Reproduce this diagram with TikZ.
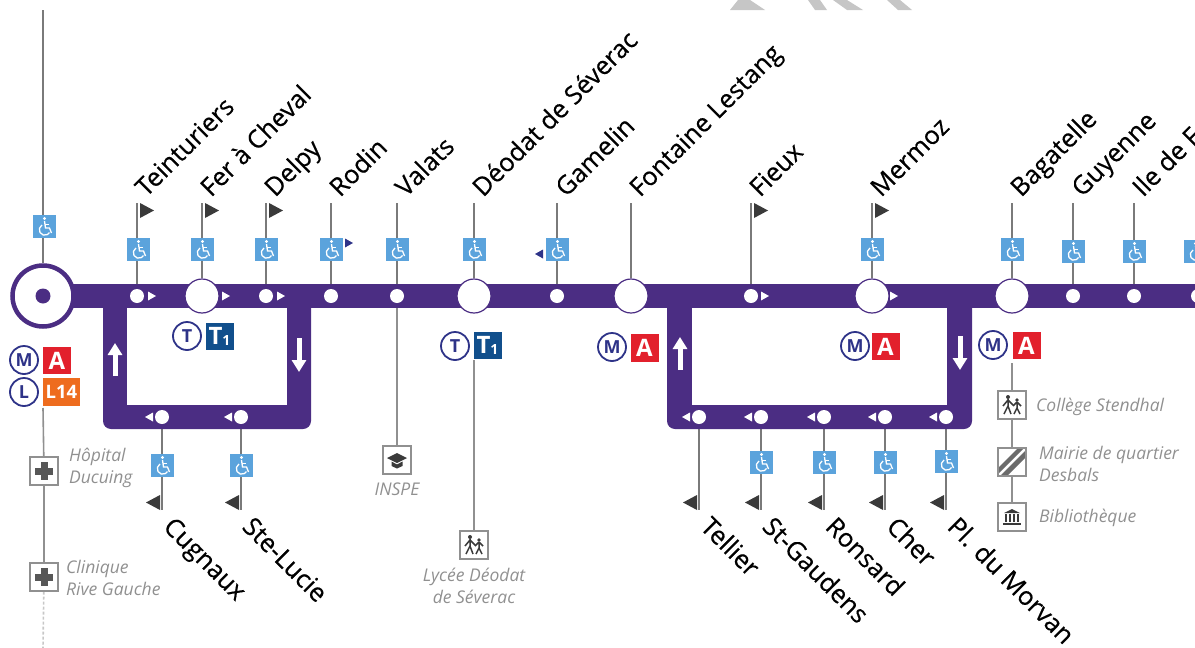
\documentclass[tikz,border=0pt]{standalone}
\usepackage{fontspec}
\setmainfont{Open Sans}
\newfontfamily\stopfont[FakeBold=0.45]{Open Sans}
\usetikzlibrary{calc,positioning,arrows.meta,backgrounds}
\definecolor{lineC}{HTML}{4B2D83}
\definecolor{accessC}{HTML}{5BA3DC}
\definecolor{metroC}{HTML}{E2202C}
\definecolor{busC}{HTML}{EE6C1E}
\definecolor{tramC}{HTML}{114F8C}
\definecolor{ringC}{HTML}{2E3388}
\definecolor{leadC}{HTML}{7A7A7A}
\definecolor{poiC}{HTML}{909090}
\definecolor{flagC}{HTML}{3A3A3A}
\tikzset{
  stopdot/.style={circle,fill=white,inner sep=0pt,minimum size=14},
  stophub/.style={circle,fill=white,draw=lineC,line width=1.2,inner sep=0pt,minimum size=34},
  leader/.style={leadC,line width=1.8},
  thinlead/.style={poiC,line width=1.6},
  toplabel/.style={anchor=base west,inner sep=0pt,rotate=45,font=\stopfont\fontsize{25.4}{25.4}\selectfont},
  lowlabel/.style={anchor=base west,inner sep=0pt,rotate=-45,font=\stopfont\fontsize{25.4}{25.4}\selectfont},
  poitext/.style={poiC,anchor=west,inner sep=0pt,align=left,font=\fontsize{17.5}{22}\selectfont\itshape},
  ringbadge/.style={circle,draw=ringC,fill=white,line width=1.8,inner sep=0pt,minimum size=28,text=ringC,font=\fontsize{18}{18}\selectfont\bfseries},
  linebadge/.style={fill=#1,text=white,inner sep=0pt,minimum height=27.5,minimum width=28,font=\fontsize{24}{24}\selectfont\bfseries},
  wheelbox/.style={fill=accessC,inner sep=0pt,minimum size=23,path picture={
    \begin{scope}[shift={(path picture bounding box.center)},white,line width=1.3]
      \fill (0.5,-7.5) circle (1.7pt);
      \draw (0.5,-5) -- (1.5,2) -- (5.5,2) -- (7.5,7);
      \draw (1,-1.5) -- (5,-1.5);
      \draw (-2,-1) arc[start angle=120,end angle=330,radius=5.5pt];
    \end{scope}}},
  poibox/.style={draw=poiC,fill=white,line width=1.4,inner sep=0pt,minimum size=28},
  crossbox/.style={poibox,path picture={
    \begin{scope}[shift={(path picture bounding box.center)}]
      \fill[flagC!85] (-9,-3.5) rectangle (9,3.5);
      \fill[flagC!85] (-3.5,-9) rectangle (3.5,9);
    \end{scope}}},
  kidsbox/.style={poibox,path picture={
    \begin{scope}[shift={(path picture bounding box.center)},flagC,line width=1.5]
      \fill (-4,-8) circle (2pt);
      \fill (5,-5) circle (1.8pt);
      \draw (-4,-6) -- (-4,1) -- (-8,9) (-4,1) -- (-1,9) (-4,-5) -- (-9,1) (-4,-5) -- (1,0);
      \draw (5,-3) -- (5,3) -- (2,9) (5,3) -- (8,9) (5,-3) -- (1,1) (5,-3) -- (9,1);
    \end{scope}}},
  capbox/.style={poibox,path picture={
    \begin{scope}[shift={(path picture bounding box.center)}]
      \fill[flagC] (-10,-2) -- (0,-7) -- (10,-2) -- (0,3) -- cycle;
      \fill[flagC] (-5.5,1.5) -- (0,4.5) -- (5.5,1.5) -- (5.5,6) -- (0,8.5) -- (-5.5,6) -- cycle;
    \end{scope}}},
  stripebox/.style={poibox,path picture={
    \begin{scope}[shift={(path picture bounding box.center)}]
      \fill[flagC!75] (-14,6) -- (6,-14) -- (12,-14) -- (-14,12) -- cycle;
      \fill[flagC!75] (14,-12) -- (-12,14) -- (-5,14) -- (14,-5) -- cycle;
    \end{scope}}},
  bankbox/.style={poibox,path picture={
    \begin{scope}[shift={(path picture bounding box.center)}]
      \fill[flagC] (-8,-4) -- (0,-8) -- (8,-4) -- cycle;
      \foreach \c in {-6,-2,2,6}{\fill[flagC] (\c-0.8,-3) rectangle (\c+0.8,5);}
      \fill[flagC] (-9,6) rectangle (9,8);
    \end{scope}}},
  dirR/.pic={\fill[white] (0,-4.5) -- (8,0) -- (0,4.5) -- cycle;},
  dirL/.pic={\fill[white] (0,-4.5) -- (-8,0) -- (0,4.5) -- cycle;},
  flagR/.pic={\fill[flagC] (0,0) -- (14,7.5) -- (0,15) -- cycle;},
  flagL/.pic={\fill[flagC] (0,0) -- (-14,7.5) -- (0,15) -- cycle;},
  blueR/.pic={\fill[ringC] (0,-4.5) -- (8,0) -- (0,4.5) -- cycle;},
  blueL/.pic={\fill[ringC] (0,-4.5) -- (-8,0) -- (0,4.5) -- cycle;},
}

\begin{document}
\begin{tikzpicture}[x=1pt,y=-1pt]
  \useasboundingbox (0,0) rectangle (1195,648);

  % print residue along the top edge
  \fill[gray!45] (730,10) -- (738,0) -- (750,0) -- (765,10) -- cycle;
  \fill[gray!45] (808,0) -- (820,0) -- (827,10) -- (815,10) -- cycle;
  \fill[gray!45] (833,0) -- (847,0) -- (863,10) -- (847,10) -- cycle;
  \fill[gray!45] (887,0) -- (900,0) -- (912,10) -- (898,10) -- cycle;

  % loops and main band
  \fill[lineC,rounded corners=8] (103,296) -- (103,429) -- (311,429) -- (311,296) -- cycle;
  \fill[white] (127,296) rectangle (287,405);
  \fill[lineC,rounded corners=8] (667,296) -- (667,429) -- (972,429) -- (972,296) -- cycle;
  \fill[white] (692,296) rectangle (947,405);
  \fill[lineC] (60,284) rectangle (1195,308);

  % terminus
  \node[circle,draw=lineC,fill=white,line width=4.5,inner sep=0pt,minimum size=61] (term) at (43,296) {};
  \fill[lineC] (term.center) circle (7.5pt);

  % upper stops
  \foreach \n/\x/\st/\lab in {teint/137/stopdot/Teinturiers,fer/202/stophub/Fer à Cheval,delpy/266/stopdot/Delpy,
      rodin/331/stopdot/Rodin,valats/397/stopdot/Valats,deodat/474/stophub/Déodat de Séverac,gamelin/557/stopdot/Gamelin,
      fontaine/631/stophub/Fontaine Lestang,fieux/751/stopdot/Fieux,mermoz/872/stophub/Mermoz,
      bagatelle/1012/stophub/Bagatelle,guyenne/1073/stopdot/Guyenne,ile/1134/stopdot/Ile de F}{
    \node[\st] (s\n) at (\x,296) {};
    \coordinate (t\n) at (\x,203);
    \node[toplabel] (l\n) at (\x+9,198) {\lab};
    \begin{scope}[on background layer]
      \draw[leader] (s\n) -- (t\n);
    \end{scope}
  }
  \node[stopdot] (sedge) at (1198,296) {};

  % lower stops
  \foreach \n/\x/\lab in {cugnaux/162/Cugnaux,lucie/241/Ste-Lucie,tellier/699/Tellier,gaudens/761/St-Gaudens,
      ronsard/824/Ronsard,cher/885/Cher,morvan/946/Pl. du Morvan}{
    \node[stopdot] (s\n) at (\x,417) {};
    \coordinate (t\n) at (\x,510);
    \node[lowlabel] (l\n) at (\x,528) {\lab};
    \path (\x-9,417) pic {dirL};
    \path (\x-2,495) pic {flagL};
    \begin{scope}[on background layer]
      \draw[leader] (s\n) -- (t\n);
    \end{scope}
  }

  % direction marks and flags
  \foreach \x in {148,222,277,761,890}{\path (\x,296) pic {dirR};}
  \foreach \x in {140,205,269,754,875}{\path (\x,203) pic {flagR};}
  \path (345,243) pic {blueR};
  \path (543,254) pic {blueL};

  % loop arrows
  \draw[white,line width=5,-{Triangle[width=14,length=12]}] (115,376) -- (115,343);
  \draw[white,line width=5,-{Triangle[width=14,length=12]}] (299,338) -- (299,372);
  \draw[white,line width=5,-{Triangle[width=14,length=12]}] (680,370) -- (680,337);
  \draw[white,line width=5,-{Triangle[width=14,length=12]}] (960,336) -- (960,370);

  % accessible stops
  \foreach \x/\y [count=\i] in {44/226,138/249,202/249,266/249,331/249,397/249,474/249,557/249,872/249,1012/249,
      1073/251,1134/251,1195/251,162/465,241/465,761/462,824/462,885/462,946/461}{
    \node[wheelbox] (w\i) at (\x,\y) {};
  }

  % connections
  \node[ringbadge] (metroa) at (24,360) {M};
  \node[linebadge=metroC] (linea) at (57,360.5) {A};
  \node[ringbadge] (leo) at (24,392) {L};
  \node[linebadge=busC,minimum width=37,font=\fontsize{18.5}{18.5}\selectfont\bfseries] (lio) at (61.5,392) {L14};
  \node[ringbadge] (trama) at (187,336) {T};
  \node[linebadge=tramC] (tonea) at (219.5,336.5) {T\raisebox{-1.5pt}{\fontsize{14}{14}\selectfont 1}};
  \node[ringbadge] (tramb) at (455,346) {T};
  \node[linebadge=tramC] (toneb) at (487.5,345.5) {T\raisebox{-1.5pt}{\fontsize{14}{14}\selectfont 1}};
  \node[ringbadge] (metrob) at (612,347) {M};
  \node[linebadge=metroC] (lineb) at (644.5,348) {A};
  \node[ringbadge] (metroc) at (855,346) {M};
  \node[linebadge=metroC] (linec) at (885.5,346.5) {A};
  \node[ringbadge] (metrod) at (993,345) {M};
  \node[linebadge=metroC] (lined) at (1026.5,345.5) {A};

  % places
  \node[crossbox] (ducuing) at (44,471) {};
  \node[crossbox] (rive) at (44,577) {};
  \node[capbox] (inspe) at (397,460) {};
  \node[kidsbox] (lycee) at (474,545) {};
  \node[kidsbox] (college) at (1012,405) {};
  \node[stripebox] (mairie) at (1012,462) {};
  \node[bankbox] (biblio) at (1012,517) {};
  \coordinate (termup) at (43,10);
  \coordinate (termlow) at (43,408);
  \coordinate (termend) at (43,648);
  \coordinate (lyceeup) at (474,360);
  \coordinate (collegeup) at (1012,363);
  \begin{scope}[on background layer]
    \draw[leader] (term) -- (termup);
    \draw[thinlead] (termlow) -- (ducuing) -- (rive);
    \draw[thinlead,densely dashed,poiC!50] (rive) -- (termend);
    \draw[thinlead] (svalats) -- (inspe);
    \draw[thinlead] (lyceeup) -- (lycee);
    \draw[thinlead] (collegeup) -- (college) -- (mairie) -- (biblio);
  \end{scope}
  \node[poitext] (tducuing) at (69,468) {Hôpital\\Ducuing};
  \node[poitext] (trive) at (66,578) {Clinique\\Rive Gauche};
  \node[poitext,anchor=center] (tinspe) at (397,489) {INSPE};
  \node[poitext,anchor=center,align=center] (tlycee) at (474,586) {Lycée Déodat\\de Séverac};
  \node[poitext] (tcollege) at (1036,407) {Collège Stendhal};
  \node[poitext] (tmairie) at (1039,464) {Mairie de quartier\\Desbals};
  \node[poitext] (tbiblio) at (1039,518) {Bibliothèque};
\end{tikzpicture}
\end{document}
